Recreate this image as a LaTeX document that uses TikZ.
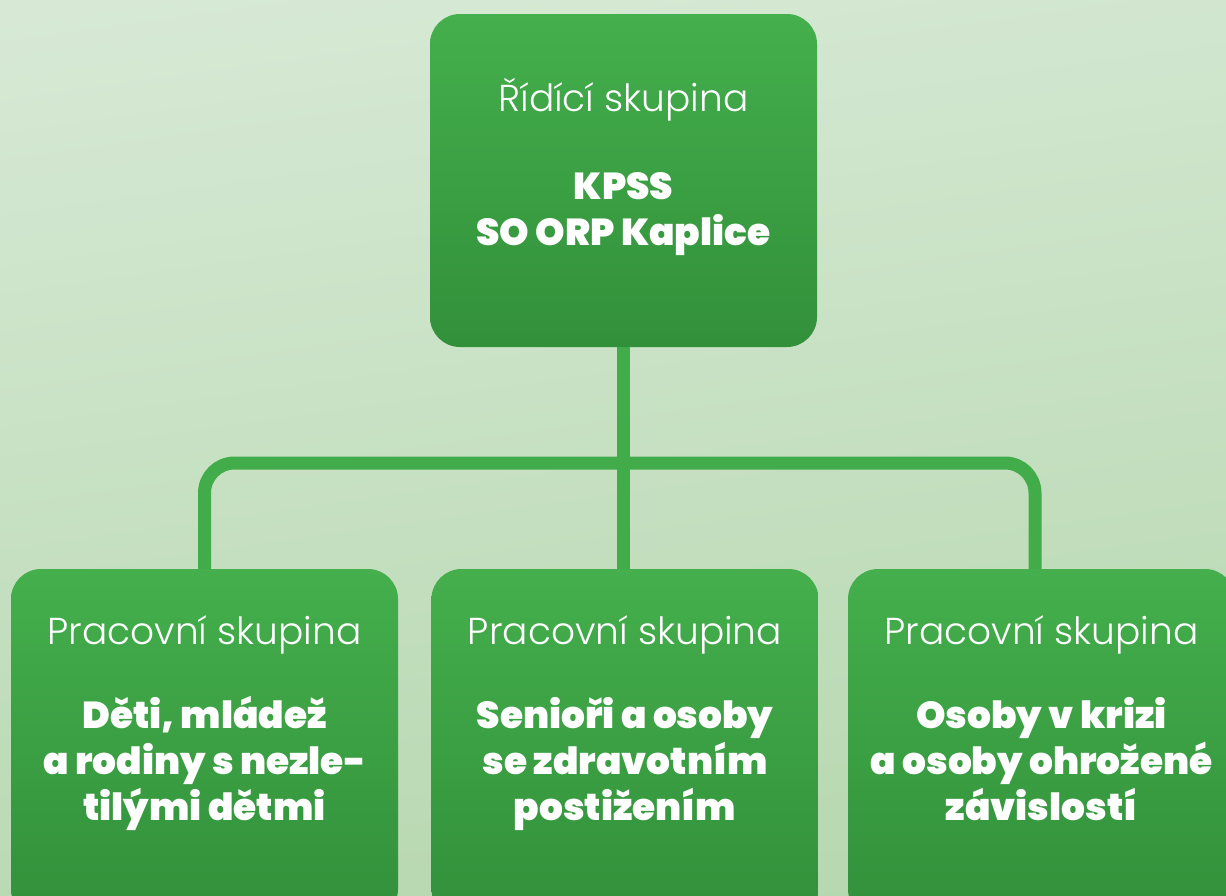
\documentclass[tikz,border=0pt]{standalone}
\usepackage{fontspec}
\setmainfont{Poppins}[UprightFont=* Light, BoldFont=* Black]
\definecolor{bgtop}{HTML}{D7E9D5}
\definecolor{bgbot}{HTML}{B5D7AE}
\definecolor{boxtop}{HTML}{44AF4C}
\definecolor{boxbot}{HTML}{32903A}
\definecolor{linec}{HTML}{43AC4A}
\pgfdeclarelayer{bgl}
\pgfdeclarelayer{lines}
\pgfsetlayers{bgl,lines,main}
\begin{document}
\begin{tikzpicture}[x=1pt,y=-1pt,
  box/.style={rounded corners=30pt, minimum width=387pt, inner sep=0pt, draw=none, top color=boxtop, bottom color=boxbot},
  conn/.style={draw=linec, line width=13pt, rounded corners=30pt},
  lt/.style={text=white, font=\fontsize{37.5}{46}\selectfont, align=center, inner sep=0pt, anchor=base},
  bd/.style={text=white, font=\fontsize{37.5}{46}\selectfont\bfseries, align=center, inner sep=0pt, anchor=base}]
\useasboundingbox (0,0) rectangle (1226,895);
\clip (0,0) rectangle (1226,895);
\begin{pgfonlayer}{bgl}
\shade[top color=bgtop, bottom color=bgbot, shading angle=8] (-50,-50) rectangle (1276,945);
\end{pgfonlayer}
% boxes
\node[box, minimum height=333pt] (top) at (623.5,180.5) {};
\node[box, minimum height=350pt] (left) at (204.5,744) {};
\node[box, minimum height=350pt] (mid) at (625,744) {};
\node[box, minimum height=350pt] (right) at (1041.5,744) {};
% connectors (behind boxes)
\coordinate (hy) at (0,463);
\begin{pgfonlayer}{lines}
\draw[conn] (top.south) -- (top.south |- mid.north);
\draw[conn] (left.north) -- (left.north |- hy) -- ([xshift=-6.5pt]right.north |- hy) -- ([xshift=-6.5pt]right.north);
\end{pgfonlayer}
% texts (base anchor = baseline of last line)
\node[lt] (t1) at (623.5,111) {Řídící skupina};
\node[bd] (t2) at (623.5,245) {KPSS\\SO ORP Kaplice};
\node[lt] (l1) at (204.5,644) {Pracovní skupina};
\node[bd] (l2) at (204.5,820) {Děti, mládež\\a rodiny s nezle-\\tilými dětmi};
\node[lt] (m1) at (625,644) {Pracovní skupina};
\node[bd] (m2) at (625,820) {Senioři a osoby\\se zdravotním\\postižením};
\node[lt] (r1) at (1041.5,644) {Pracovní skupina};
\node[bd] (r2) at (1041.5,820) {Osoby v krizi\\a osoby ohrožené\\závislostí};
\end{tikzpicture}
\end{document}
